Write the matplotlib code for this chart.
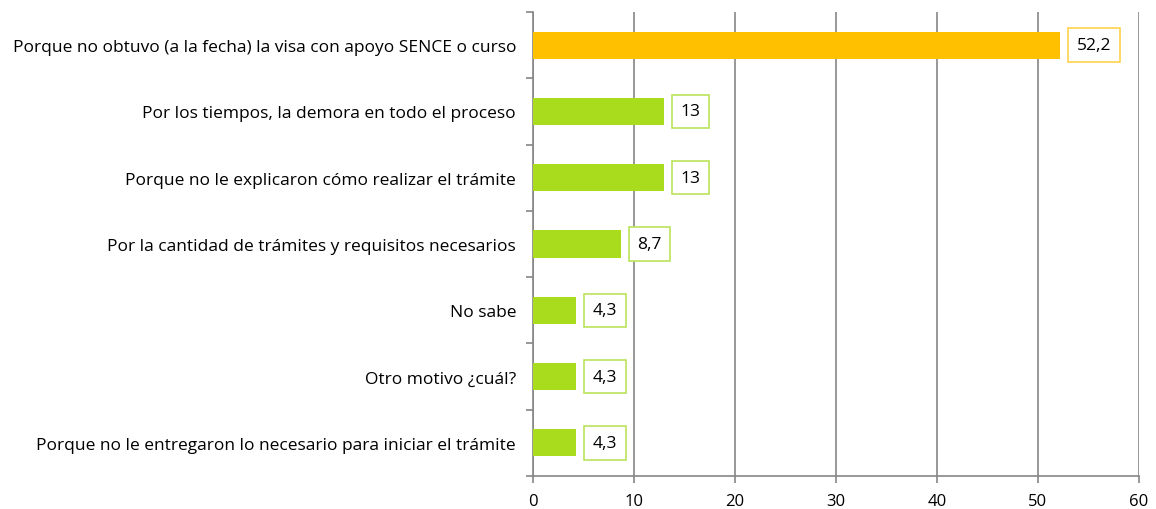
import matplotlib
matplotlib.use("Agg")
import matplotlib.pyplot as plt

categories = [
    "Porque no obtuvo (a la fecha) la visa con apoyo SENCE o curso",
    "Por los tiempos, la demora en todo el proceso",
    "Porque no le explicaron cómo realizar el trámite",
    "Por la cantidad de trámites y requisitos necesarios",
    "No sabe",
    "Otro motivo ¿cuál?",
    "Porque no le entregaron lo necesario para iniciar el trámite",
]
values = [52.2, 13, 13, 8.7, 4.3, 4.3, 4.3]
value_labels = ["52,2", "13", "13", "8,7", "4,3", "4,3", "4,3"]
xticks = [0, 10, 20, 30, 40, 50, 60]

bar_colors = ["#FFC000"] + ["#A8DC1C"] * 6
edge_colors = ["#FFD34D"] + ["#B9E35A"] * 6

plt.rcParams['font.family'] = ['Open Sans', 'DejaVu Sans']

W, H = 1156, 510
fig = plt.figure(figsize=(W / 100, H / 100), dpi=100)
ax = fig.add_axes([532.7 / W, 1 - 477 / H, (1139 - 532.7) / W, (477 - 13) / H])

n = len(categories)
ypos = list(range(n))
ax.barh(ypos, values, height=0.41, color=bar_colors, zorder=3)
ax.set_ylim(n - 0.5, -0.5)
ax.set_xlim(0, 60)
ax.set_xticks(xticks)
ax.set_xticklabels([str(t) for t in xticks], fontsize=12)
ax.set_yticks(ypos)
ax.set_yticklabels(categories, fontsize=12.5)
ax.tick_params(axis='y', length=0, pad=12)
ax.set_yticks([i - 0.5 for i in range(n + 1)], minor=True)
ax.tick_params(axis='y', which='minor', length=5, color="#868686", width=1.2)
ax.tick_params(axis='x', length=5, color="#868686", width=1.2, pad=7)

ax.grid(axis='x', color="#868686", linewidth=1.2, zorder=0)
for s in ["top", "right"]:
    ax.spines[s].set_visible(False)
for s in ["left", "bottom"]:
    ax.spines[s].set_color("#868686")
    ax.spines[s].set_linewidth(1.2)

for y, v, lab, ec in zip(ypos, values, value_labels, edge_colors):
    ax.annotate(lab, xy=(v, y), xytext=(12, 0), textcoords="offset points",
                ha="left", va="center", fontsize=12.5, zorder=4,
                bbox=dict(boxstyle="square,pad=0.5", fc="white", ec=ec, lw=1.2))

fig.savefig("out.png", dpi=100)
